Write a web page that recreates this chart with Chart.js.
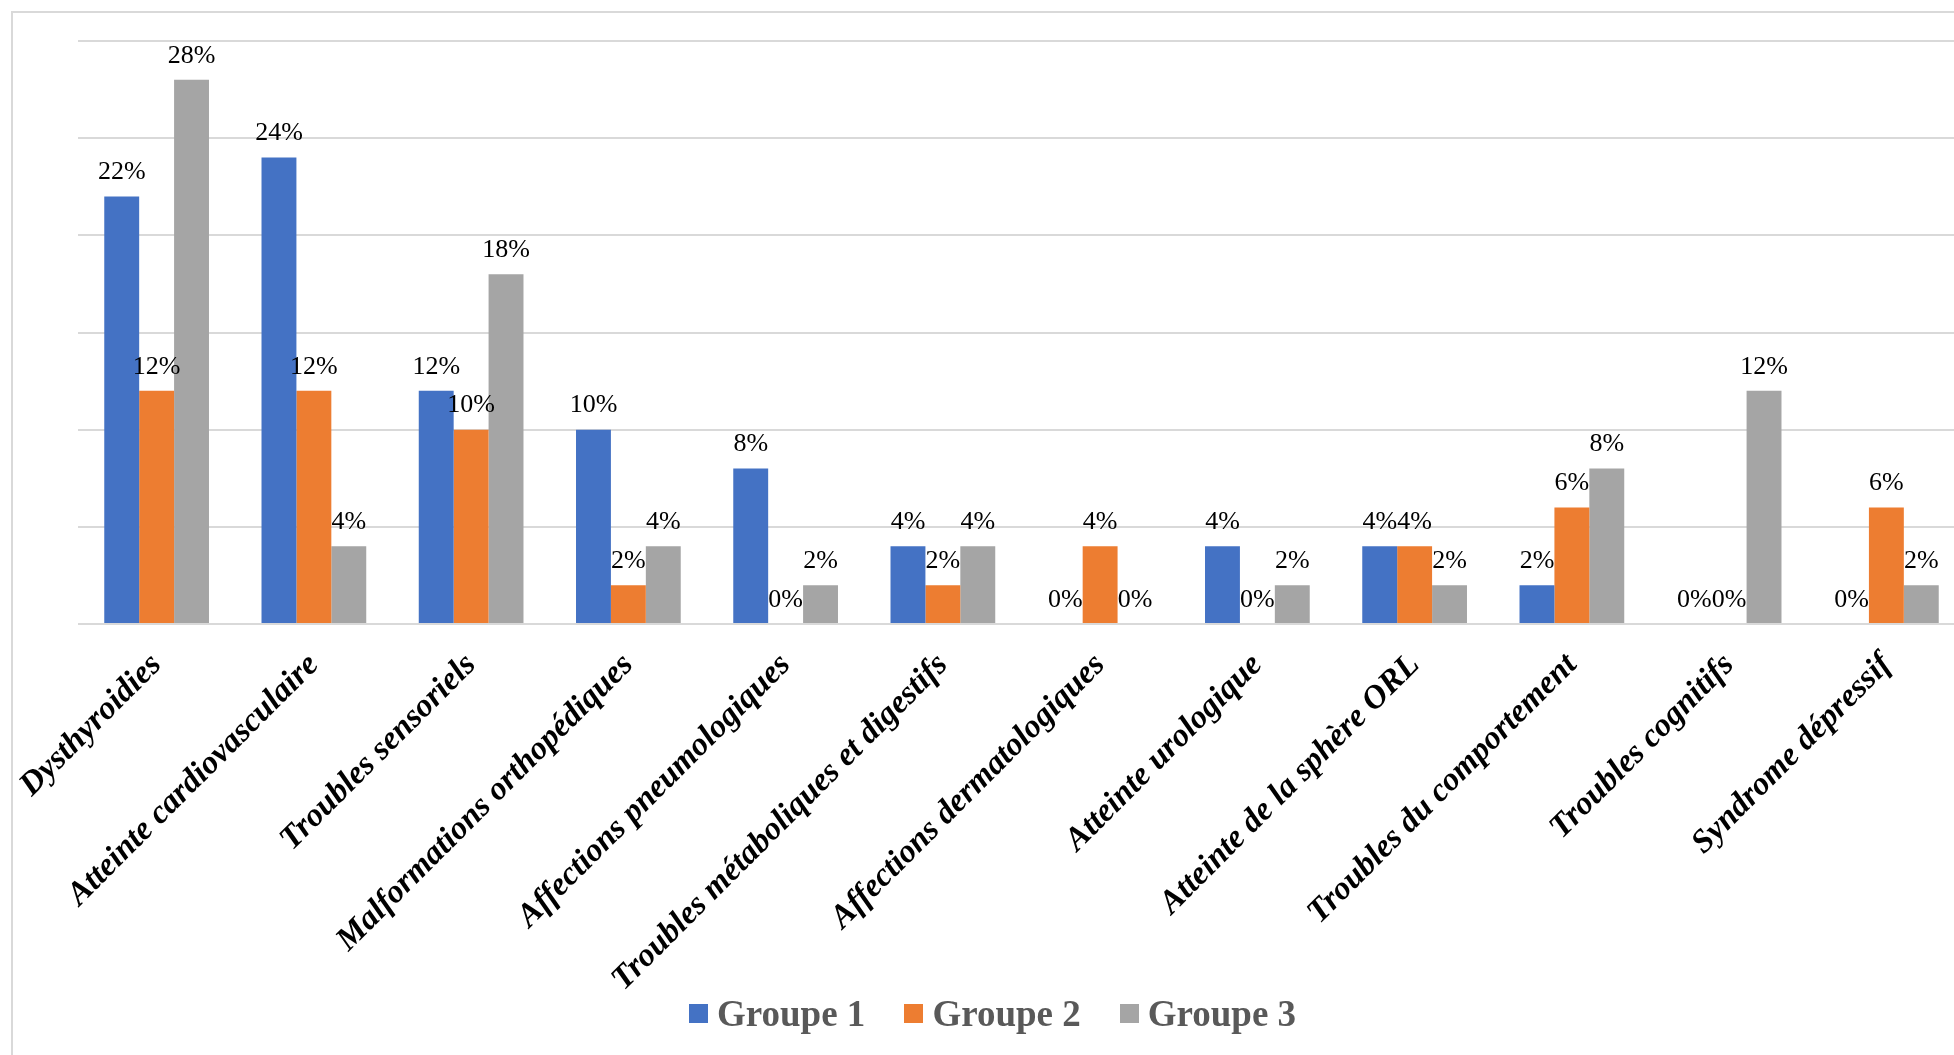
<!DOCTYPE html>
<html lang="fr">
<head>
<meta charset="utf-8">
<title>Pathologies par groupe</title>
<script src="https://cdn.jsdelivr.net/npm/chart.js@4.4.1/dist/chart.umd.min.js"></script>
<style>
    html, body { margin: 0; padding: 0; background: #fff; overflow: hidden; }
    body { width: 1954px; height: 1055px; position: relative; }
    #frame { position: absolute; left: 11px; top: 11px; width: 2100px; height: 1200px; border: 2px solid #d9d9d9; }
    #wrap { position: absolute; left: 0; top: 0; width: 1990px; height: 1055px; }
    #legend { position: absolute; left: 689px; top: 990px; height: 46px; display: flex; align-items: center;
              font: bold 37px "Liberation Serif", "Times New Roman", serif; color: #595959; }
    .item { display: flex; align-items: center; margin-right: 39px; }
    .box { width: 19px; height: 19px; margin-right: 9px; }
</style>
</head>
<body>
<div id="frame"></div>
<div id="wrap"><canvas id="chart" width="1990" height="1055"></canvas></div>
<div id="legend"></div>
<script>
// --- Data ---
const categories = [
    'Dysthyroidies', 'Atteinte cardiovasculaire', 'Troubles sensoriels',
    'Malformations orthopédiques', 'Affections pneumologiques',
    'Troubles métaboliques et digestifs', 'Affections dermatologiques',
    'Atteinte urologique', 'Atteinte de la sphère ORL',
    'Troubles du comportement', 'Troubles cognitifs', 'Syndrome dépressif'
];
const groupe1 = [22, 24, 12, 10, 8, 4, 0, 4, 4, 2, 0, 0];
const groupe2 = [12, 12, 10, 2, 0, 2, 4, 0, 4, 6, 0, 6];
const groupe3 = [28, 4, 18, 4, 2, 4, 0, 2, 2, 8, 12, 2];
const seriesNames = ['Groupe 1', 'Groupe 2', 'Groupe 3'];
const seriesColors = ['#4472C4', '#ED7D31', '#A5A5A5'];

// --- Value labels above each bar ---
const barLabels = {
    id: 'barLabels',
    afterDatasetsDraw(chart) {
        const ctx = chart.ctx;
        ctx.save();
        ctx.font = '26px "Liberation Serif", "Times New Roman", serif';
        ctx.fillStyle = '#000';
        ctx.textAlign = 'center';
        ctx.textBaseline = 'middle';
        chart.data.datasets.forEach((ds, i) => {
            chart.getDatasetMeta(i).data.forEach((bar, j) => {
                ctx.fillText(`${ds.data[j]}%`, bar.x, bar.y - 24);
            });
        });
        ctx.restore();
    }
};

const values = [groupe1, groupe2, groupe3];

new Chart(document.getElementById('chart'), {
    type: 'bar',
    data: {
        labels: categories,
        datasets: values.map((data, i) => ({
            label: seriesNames[i],
            data: data,
            backgroundColor: seriesColors[i],
            borderWidth: 0,
            categoryPercentage: 0.666,
            barPercentage: 1.0
        }))
    },
    options: {
        responsive: false,
        animation: false,
        layout: { padding: { left: 78, right: 25, top: 41, bottom: 31 } },
        plugins: {
            legend: { display: false },
            tooltip: { enabled: false }
        },
        scales: {
            x: {
                grid: { display: false },
                border: { display: false },
                ticks: {
                    autoSkip: false,
                    minRotation: 45,
                    maxRotation: 45,
                    padding: 14,
                    color: '#000',
                    font: { family: '"Liberation Serif", "Times New Roman", serif', size: 33, style: 'italic', weight: 'bold' }
                },
                afterFit: scale => { scale.height = 400; }
            },
            y: {
                min: 0,
                max: 30,
                ticks: { display: false, stepSize: 5 },
                grid: { color: '#d9d9d9', lineWidth: 2, drawTicks: false },
                border: { display: false },
                afterFit: scale => { scale.width = 0; }
            }
        }
    },
    plugins: [barLabels]
});

// --- Legend ---
const legendEl = document.getElementById('legend');
seriesNames.forEach((name, i) => {
    const item = document.createElement('div');
    item.className = 'item';
    item.innerHTML = `<span class="box" style="background:${seriesColors[i]}"></span><span>${name}</span>`;
    legendEl.appendChild(item);
});
</script>
</body>
</html>
